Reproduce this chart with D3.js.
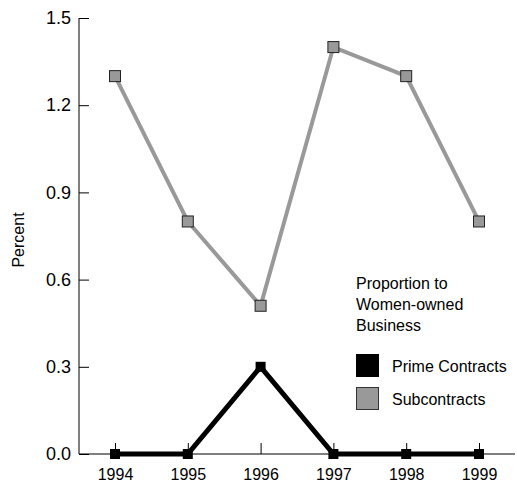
<!DOCTYPE html>
<html>
<head>
<meta charset="utf-8">
<script src="https://cdn.jsdelivr.net/npm/d3@7"></script>
<style>
  body { margin: 0; background: #fff; }
  text { font-family: "Liberation Sans", Arial, sans-serif; fill: #000; }
</style>
</head>
<body>
<div id="chart"></div>
<script>
var years = ["1994", "1995", "1996", "1997", "1998", "1999"];
var primeValues = [0, 0, 0.3, 0, 0, 0];
var subValues = [1.3, 0.8, 0.51, 1.4, 1.3, 0.8];
var yTicks = [0, 0.3, 0.6, 0.9, 1.2, 1.5];
var legendTitle = ["Proportion to", "Women-owned", "Business"];
var legendItems = ["Prime Contracts", "Subcontracts"];

var svgWidth = 517;
var svgHeight = 484;

var margin = { top: 18, right: 2, bottom: 30, left: 79 };

var svg = d3.select("#chart")
    .append("svg")
    .attr("width", svgWidth)
    .attr("height", svgHeight);

var x = d3.scalePoint()
    .domain(years)
    .range([115, 479]);

var y = d3.scaleLinear()
    .domain([0, 1.5])
    .range([svgHeight - margin.bottom, margin.top]);

// y axis
var yAxis = svg.append("g")
    .attr("transform", `translate(${margin.left},0)`)
    .call(d3.axisRight(y).tickValues(yTicks).tickSize(10).tickFormat(d3.format(".1f")));
yAxis.select(".domain").attr("d", `M0,${y(1.5)}V${y(0)}`).attr("stroke", "#000");
yAxis.selectAll("line").attr("stroke", "#000");
yAxis.selectAll("text")
    .attr("x", -8)
    .attr("text-anchor", "end")
    .style("font-size", "18px");

// x axis
var xAxis = svg.append("g")
    .attr("transform", `translate(0,${y(0)})`)
    .call(d3.axisTop(x).tickSize(11));
xAxis.select(".domain").attr("d", `M${margin.left},0H${svgWidth - margin.right}`).attr("stroke", "#000");
xAxis.selectAll("line").attr("stroke", "#000");
xAxis.selectAll("text")
    .attr("y", 21)
    .attr("dy", "0.32em")
    .style("font-size", "16px");

svg.append("text")
    .attr("transform", `translate(24,240) rotate(-90)`)
    .attr("text-anchor", "middle")
    .style("font-size", "16px")
    .text("Percent");

var line = d3.line()
    .x((d, i) => x(years[i]))
    .y(d => y(d));

// subcontracts
svg.append("path")
    .datum(subValues)
    .attr("d", line)
    .attr("fill", "none")
    .attr("stroke", "#999")
    .attr("stroke-width", 4);

svg.selectAll(".sub")
    .data(subValues)
    .enter()
    .append("rect")
    .attr("class", "sub")
    .attr("x", (d, i) => x(years[i]) - 5.5)
    .attr("y", d => y(d) - 5.5)
    .attr("width", 11)
    .attr("height", 11)
    .attr("fill", "#999")
    .attr("stroke", "#222")
    .attr("stroke-width", 1);

// prime contracts
svg.append("path")
    .datum(primeValues)
    .attr("d", line)
    .attr("fill", "none")
    .attr("stroke", "#000")
    .attr("stroke-width", 5);

svg.selectAll(".prime")
    .data(primeValues)
    .enter()
    .append("rect")
    .attr("class", "prime")
    .attr("x", (d, i) => x(years[i]) - 5)
    .attr("y", d => y(d) - 5)
    .attr("width", 10)
    .attr("height", 10)
    .attr("fill", "#000");

// legend
var legend = svg.append("g");
legend.selectAll(".ltitle")
    .data(legendTitle)
    .enter()
    .append("text")
    .attr("x", 356)
    .attr("y", (d, i) => 289 + i * 21)
    .style("font-size", "16px")
    .text(d => d);

var swatchFill = ["#000", "#999"];
var swatchStroke = ["#000", "#333"];
legend.selectAll(".lrect")
    .data(legendItems)
    .enter()
    .append("rect")
    .attr("x", 356.5)
    .attr("y", (d, i) => 354.5 + i * 33)
    .attr("width", 22)
    .attr("height", 22)
    .attr("fill", (d, i) => swatchFill[i])
    .attr("stroke", (d, i) => swatchStroke[i]);

legend.selectAll(".ltext")
    .data(legendItems)
    .enter()
    .append("text")
    .attr("x", 392)
    .attr("y", (d, i) => 366 + i * 33)
    .attr("dy", "0.35em")
    .style("font-size", "16px")
    .text(d => d);
</script>
</body>
</html>
